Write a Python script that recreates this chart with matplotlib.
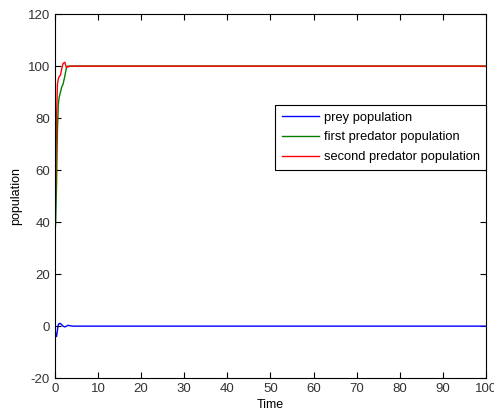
import matplotlib
matplotlib.use("Agg")
import matplotlib.pyplot as plt

plt.rcParams['font.family'] = ['Liberation Sans', 'DejaVu Sans']
plt.rcParams['axes.unicode_minus'] = False

# time points (a few early samples, then flat to 100)
t = [0, 0.2, 0.4, 0.6, 0.8, 1.0, 1.3, 1.6, 1.9, 2.3, 2.7, 3.0, 3.5, 4.0, 5.0, 10, 20, 50, 100]

prey = [0, -3.5, -4, -1.5, 0.5, 1, 1, 0.5, 0, -0.3, 0, 0.3, 0.2, 0, 0, 0, 0, 0, 0]
pred1 = [35, 40, 55, 75, 85, 88, 90, 92, 93, 96, 99.5, 100, 100, 100, 100, 100, 100, 100, 100]
pred2 = [40, 55, 80, 93, 95, 96, 96.5, 99, 101, 101.5, 99.5, 99.7, 100, 100, 100, 100, 100, 100, 100]

fig = plt.figure(figsize=(4.94, 4.16), dpi=100)
ax = fig.add_axes([0.111, 0.091, 0.873, 0.875])

ax.plot(t, prey, color='#0000ff', lw=1, label='prey population')
ax.plot(t, pred1, color='#008000', lw=1, label='first predator population')
ax.plot(t, pred2, color='#ff0000', lw=1, label='second predator population')

ax.set_xlim(0, 100)
ax.set_ylim(-20, 120)
ax.set_xticks(range(0, 101, 10))
ax.set_yticks(range(-20, 121, 20))
ax.tick_params(direction='in', top=True, right=True, labelsize=9.5, length=4,
               labelcolor='#333333')
ax.set_xlabel('Time', fontsize=9, labelpad=3)
ax.set_ylabel('population', fontsize=9)

leg = ax.legend(loc='upper right', bbox_to_anchor=(1.0, 0.75), fontsize=9.3,
                fancybox=False, framealpha=1, edgecolor='black',
                handlelength=2.9, handletextpad=0.35, borderaxespad=0,
                labelspacing=0.6, borderpad=0.5)
leg.get_frame().set_linewidth(0.8)

fig.savefig('out.png', dpi=100)
